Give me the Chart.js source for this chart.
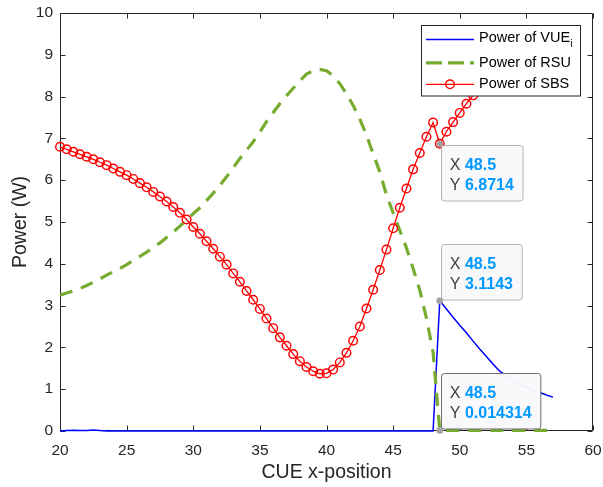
<!DOCTYPE html>
<html>
<head>
<meta charset="utf-8">
<script src="https://cdn.jsdelivr.net/npm/chart.js@4"></script>
<style>
  html, body { margin: 0; padding: 0; background: #fff; }
  canvas { display: block; }
</style>
</head>
<body>
<canvas id="c" width="603" height="487"></canvas>
<script>
// CUE x-position samples (m)
const xPositions = [
  20, 20.5, 21, 21.5, 22, 22.5, 23, 23.5, 24, 24.5,
  25, 25.5, 26, 26.5, 27, 27.5, 28, 28.5, 29, 29.5,
  30, 30.5, 31, 31.5, 32, 32.5, 33, 33.5, 34, 34.5,
  35, 35.5, 36, 36.5, 37, 37.5, 38, 38.5, 39, 39.5,
  40, 40.5, 41, 41.5, 42, 42.5, 43, 43.5, 44, 44.5,
  45, 45.5, 46, 46.5, 47, 47.5, 48, 48.5, 49, 49.5,
  50, 50.5, 51, 51.5, 52, 52.5, 53, 53.5, 54, 54.5,
  55, 55.5, 56, 56.5, 57
];

// Transmit power of the VUE (W)
const vuePower = [
  0, 0.01, 0.02, 0.01, 0.01, 0.025, 0.01, 0, 0, 0,
  0, 0, 0, 0, 0, 0, 0, 0, 0, 0,
  0, 0, 0, 0, 0, 0, 0, 0, 0, 0,
  0, 0, 0, 0, 0, 0, 0, 0, 0, 0,
  0, 0, 0, 0, 0, 0, 0, 0, 0, 0,
  0, 0, 0, 0, 0, 0, 0, 3.1143, 2.92, 2.72,
  2.53, 2.35, 2.15, 1.96, 1.78, 1.60, 1.43, 1.32, 1.20, 1.10,
  1.04, 0.98, 0.92, 0.86, 0.81
];

// Transmit power of the RSU (W)
const rsuPower = [
  3.25, 3.30, 3.35, 3.41, 3.48, 3.56, 3.64, 3.73, 3.81, 3.89,
  3.98, 4.08, 4.18, 4.28, 4.39, 4.50, 4.63, 4.76, 4.90, 5.05,
  5.20, 5.34, 5.51, 5.69, 5.88, 6.08, 6.30, 6.52, 6.72, 6.92,
  7.15, 7.40, 7.62, 7.83, 8.02, 8.20, 8.38, 8.54, 8.62, 8.65,
  8.62, 8.50, 8.31, 8.07, 7.79, 7.46, 7.08, 6.63, 6.20, 5.65,
  5.22, 4.80, 4.38, 3.89, 3.37, 2.70, 1.88, 0.014314, 0.0143, 0.0143,
  0.0143, 0.0143, 0.0143, 0.0143, 0.0143, 0.0143, 0.0143, 0.0143, 0.0143, 0.0143,
  0.0143, 0.0143, 0.0143, 0.0143, 0.0143
];

// Transmit power of the SBS (W), sampled from x = 20 to 52
const sbsPower = [
  6.80, 6.74, 6.68, 6.62, 6.56, 6.50, 6.43, 6.36, 6.28, 6.20,
  6.12, 6.03, 5.93, 5.83, 5.72, 5.61, 5.49, 5.36, 5.22, 5.06,
  4.88, 4.72, 4.54, 4.36, 4.17, 3.98, 3.77, 3.57, 3.35, 3.14,
  2.92, 2.69, 2.46, 2.24, 2.04, 1.84, 1.67, 1.53, 1.43, 1.37,
  1.38, 1.47, 1.64, 1.87, 2.16, 2.50, 2.93, 3.38, 3.85, 4.34,
  4.85, 5.34, 5.80, 6.26, 6.65, 7.04, 7.38, 6.8714, 7.16, 7.39,
  7.61, 7.83, 8.03, 8.24, 8.45
];

const xTicks = [20, 25, 30, 35, 40, 45, 50, 55, 60];
const yTicks = [0, 1, 2, 3, 4, 5, 6, 7, 8, 9, 10];

const seriesNames = ['Power of VUE', 'Power of RSU', 'Power of SBS'];
const seriesSubscripts = ['i', '', ''];

// position of the highlighted samples
const tipX = 48.5;

const FONT = '"Liberation Sans", Arial, Helvetica, sans-serif';
const AXIS = '#262626';

function pts(values) {
  return values.map((v, i) => ({ x: xPositions[i], y: v }));
}

// Axis box with inward tick marks on all four sides
const framePlugin = {
  id: 'frame',
  beforeDatasetsDraw(chart) {
    const { ctx, chartArea: a, scales: { x, y } } = chart;
    const L = Math.round(a.left) + 0.5, R = Math.round(a.right) - 0.5;
    const T = Math.round(a.top) + 0.5, B = Math.round(a.bottom) - 0.5;
    ctx.save();
    ctx.strokeStyle = AXIS;
    ctx.lineWidth = 1;
    ctx.beginPath();
    ctx.rect(L, T, R - L, B - T);
    xTicks.forEach(v => {
      const p = Math.round(x.getPixelForValue(v)) + 0.5;
      ctx.moveTo(p, B); ctx.lineTo(p, B - 5);
      ctx.moveTo(p, T); ctx.lineTo(p, T + 5);
    });
    yTicks.forEach(v => {
      const p = Math.round(y.getPixelForValue(v)) + 0.5;
      ctx.moveTo(L, p); ctx.lineTo(L + 5, p);
      ctx.moveTo(R, p); ctx.lineTo(R - 5, p);
    });
    ctx.stroke();
    ctx.restore();
  }
};

// Data tips at x = tipX for each series
const tipDefs = [
  { values: sbsPower, below: true,  edge: '#b4b4b4' },
  { values: vuePower, below: false, edge: '#b4b4b4' },
  { values: rsuPower, below: false, edge: '#6e6e6e' }
];

function roundRect(ctx, x, y, w, h, r) {
  ctx.beginPath();
  ctx.moveTo(x + r, y);
  ctx.lineTo(x + w - r, y);
  ctx.arcTo(x + w, y, x + w, y + r, r);
  ctx.lineTo(x + w, y + h - r);
  ctx.arcTo(x + w, y + h, x + w - r, y + h, r);
  ctx.lineTo(x + r, y + h);
  ctx.arcTo(x, y + h, x, y + h - r, r);
  ctx.lineTo(x, y + r);
  ctx.arcTo(x, y, x + r, y, r);
  ctx.closePath();
}

const tipPlugin = {
  id: 'tips',
  afterDatasetsDraw(chart) {
    const { ctx, scales: { x, y } } = chart;
    const idx = xPositions.indexOf(tipX);
    ctx.save();
    tipDefs.forEach(t => {
      const v = t.values[idx];
      const px = x.getPixelForValue(tipX);
      const py = y.getPixelForValue(v);
      const xs = String(tipX), vs = String(v);
      ctx.font = `16px ${FONT}`;
      const lw = ctx.measureText('Y ').width;
      ctx.font = `bold 16px ${FONT}`;
      const vw = Math.max(ctx.measureText(xs).width, ctx.measureText(vs).width);
      const w = lw + vw + 17.5, h = 55.5;
      const bx = Math.round(px + 1.2) + 0.5;
      const by = Math.round(t.below ? py + 1 : py - 1.5 - h) + 0.5;
      roundRect(ctx, bx, by, w, h, 3);
      ctx.fillStyle = 'rgba(249,249,252,0.96)';
      ctx.fill();
      ctx.strokeStyle = t.edge;
      ctx.lineWidth = 1;
      ctx.stroke();

      ctx.textBaseline = 'middle';
      ctx.textAlign = 'left';
      const tx = bx + 8.3;
      [['X', xs, by + 20.3], ['Y', vs, by + 39.8]].forEach(([k, val, ty]) => {
        ctx.font = `16px ${FONT}`;
        ctx.fillStyle = '#404040';
        ctx.fillText(k, tx, ty);
        ctx.font = `bold 16px ${FONT}`;
        ctx.fillStyle = 'rgb(0,153,255)';
        ctx.fillText(val, tx + lw, ty);
      });

      ctx.beginPath();
      ctx.arc(px, py, 3.4, 0, Math.PI * 2);
      ctx.fillStyle = '#a3a3a3';
      ctx.fill();
    });
    ctx.restore();
  }
};

// Legend box in the upper right of the axes
const legendPlugin = {
  id: 'boxLegend',
  afterDraw(chart) {
    const { ctx } = chart;
    const ds = chart.data.datasets;
    ctx.save();
    ctx.fillStyle = '#ffffff';
    ctx.fillRect(421.5, 25, 159, 71);
    ctx.strokeStyle = AXIS;
    ctx.lineWidth = 1;
    ctx.strokeRect(421.5, 25.5, 159, 70.5);

    const rows = [39.5, 62.8, 84.3];
    const x0 = 426, x1 = 474;
    ds.forEach((d, i) => {
      const ry = rows[i];
      ctx.save();
      ctx.strokeStyle = d.borderColor;
      ctx.lineWidth = d.borderWidth;
      ctx.lineCap = 'butt';
      ctx.setLineDash(i === 1 ? [16, 6] : []);
      ctx.beginPath();
      ctx.moveTo(x0, ry); ctx.lineTo(x1, ry);
      ctx.stroke();
      ctx.restore();
      if (d.pointRadius > 0) {
        ctx.beginPath();
        ctx.arc((x0 + x1) / 2, ry, d.pointRadius, 0, Math.PI * 2);
        ctx.strokeStyle = d.pointBorderColor;
        ctx.lineWidth = d.pointBorderWidth;
        ctx.stroke();
      }
      ctx.font = `14.5px ${FONT}`;
      ctx.fillStyle = '#000';
      ctx.textBaseline = 'middle';
      ctx.textAlign = 'left';
      const ty = i === 0 ? ry - 2 : ry;
      ctx.fillText(seriesNames[i], 479, ty);
      if (seriesSubscripts[i]) {
        const tw = ctx.measureText(seriesNames[i]).width;
        ctx.font = `10px ${FONT}`;
        ctx.fillText(seriesSubscripts[i], 479 + tw + 0.5, ty + 7);
      }
    });
    ctx.restore();
  }
};

new Chart(document.getElementById('c'), {
  type: 'line',
  data: {
    datasets: [
      {
        label: seriesNames[0],
        data: pts(vuePower),
        borderColor: '#0000ff',
        borderWidth: 1.5,
        pointRadius: 0,
        fill: false,
        order: 3,
        clip: false
      },
      {
        label: seriesNames[1],
        data: pts(rsuPower),
        borderColor: '#77ac30',
        borderWidth: 3.2,
        borderDash: [13, 9],
        borderCapStyle: 'butt',
        pointRadius: 0,
        fill: false,
        order: 2,
        clip: false
      },
      {
        label: seriesNames[2],
        data: pts(sbsPower),
        borderColor: '#ff0000',
        borderWidth: 1.3,
        pointRadius: 4.3,
        pointBorderWidth: 1.45,
        pointBorderColor: '#ff0000',
        pointBackgroundColor: 'rgba(0,0,0,0)',
        pointHoverRadius: 4.3,
        fill: false,
        order: 1,
        clip: false
      }
    ]
  },
  options: {
    responsive: false,
    animation: false,
    events: [],
    layout: { padding: { top: 13, right: 10, bottom: 0, left: 0 } },
    plugins: {
      legend: { display: false },
      tooltip: { enabled: false }
    },
    scales: {
      x: {
        type: 'linear',
        min: 20,
        max: 60,
        afterBuildTicks: s => { s.ticks = xTicks.map(v => ({ value: v })); },
        afterFit: s => { s.height = 56; s.paddingLeft = 0; s.paddingRight = 0; },
        grid: { display: false, drawTicks: false },
        border: { display: false },
        ticks: {
          color: AXIS,
          font: { family: FONT, size: 15.5 },
          padding: 10,
          maxRotation: 0
        },
        title: {
          display: true,
          text: 'CUE x-position',
          color: AXIS,
          font: { family: FONT, size: 19.5 },
          padding: { top: 0, bottom: 2.3 }
        }
      },
      y: {
        min: 0,
        max: 10,
        afterBuildTicks: s => { s.ticks = yTicks.map(v => ({ value: v })); },
        afterFit: s => { s.width = 60; s.paddingTop = 0; s.paddingBottom = 0; },
        grid: { display: false, drawTicks: false },
        border: { display: false },
        ticks: {
          color: AXIS,
          font: { family: FONT, size: 15.5 },
          padding: 7
        },
        title: {
          display: true,
          text: 'Power (W)',
          color: AXIS,
          font: { family: FONT, size: 19.5 },
          padding: { top: 8.5, bottom: 0 }
        }
      }
    }
  },
  plugins: [framePlugin, tipPlugin, legendPlugin]
});
</script>
</body>
</html>
